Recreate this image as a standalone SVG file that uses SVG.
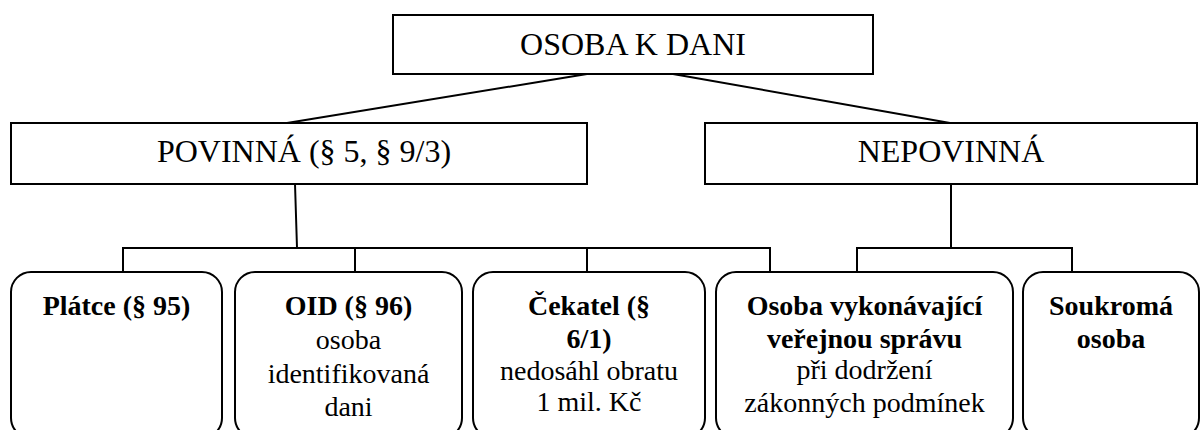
<svg xmlns="http://www.w3.org/2000/svg" width="1200" height="430" viewBox="0 0 1200 430">
<style>
  .box { fill: #ffffff; stroke: #000000; stroke-width: 2; }
  .conn { fill: none; stroke: #000000; stroke-width: 2; }
  .big { font-size: 32px; }
  .sm { font-size: 28px; }
  .b { font-weight: bold; }
</style>
<rect width="1200" height="430" fill="#ffffff"/>
<g id="connectors">
  <line class="conn" x1="587" y1="74" x2="287" y2="123"/>
  <line class="conn" x1="673" y1="74" x2="950" y2="123"/>
  <line class="conn" x1="295" y1="184" x2="297" y2="248"/>
  <polyline class="conn" points="123,272 123,248 770,248 770,272"/>
  <line class="conn" x1="355" y1="248" x2="355" y2="272"/>
  <line class="conn" x1="587" y1="248" x2="587" y2="272"/>
  <line class="conn" x1="951" y1="184" x2="951" y2="248"/>
  <polyline class="conn" points="857,272 857,248 1072,248 1072,272"/>
</g>
<g font-family="Liberation Serif, Times New Roman, serif" fill="#000000" text-anchor="middle">
<g id="osoba-k-dani">
  <rect class="box" x="393" y="15" width="480" height="59"/>
  <text class="big" x="633" y="55">OSOBA K DANI</text>
</g>
<g id="povinna">
  <rect class="box" x="11" y="123" width="576" height="61"/>
  <text class="big" x="304" y="162">POVINNÁ (§ 5, § 9/3)</text>
</g>
<g id="nepovinna">
  <rect class="box" x="705" y="123" width="492" height="61"/>
  <text class="big" x="951" y="162">NEPOVINNÁ</text>
</g>
<g id="platce">
  <rect class="box" x="11" y="272" width="211" height="166" rx="20" ry="20"/>
  <text class="sm b" x="116.5" y="315">Plátce (§ 95)</text>
</g>
<g id="oid">
  <rect class="box" x="235" y="272" width="227" height="166" rx="20" ry="20"/>
  <text class="sm b" x="348.5" y="315">OID (§ 96)</text>
  <text class="sm" x="348.5" y="349">osoba</text>
  <text class="sm" x="348.5" y="383">identifikovaná</text>
  <text class="sm" x="348.5" y="416">dani</text>
</g>
<g id="cekatel">
  <rect class="box" x="473" y="272" width="232" height="166" rx="20" ry="20"/>
  <text class="sm b" x="589" y="315">Čekatel (§</text>
  <text class="sm b" x="589" y="348">6/1)</text>
  <text class="sm" x="589" y="380">nedosáhl obratu</text>
  <text class="sm" x="589" y="411">1 mil. Kč</text>
</g>
<g id="verejna-sprava">
  <rect class="box" x="716" y="272" width="297" height="166" rx="20" ry="20"/>
  <text class="sm b" x="864.5" y="315">Osoba vykonávající</text>
  <text class="sm b" x="864.5" y="348">veřejnou správu</text>
  <text class="sm" x="864.5" y="379">při dodržení</text>
  <text class="sm" x="864.5" y="412">zákonných podmínek</text>
</g>
<g id="soukroma">
  <rect class="box" x="1023" y="272" width="176" height="166" rx="20" ry="20"/>
  <text class="sm b" x="1111" y="315">Soukromá</text>
  <text class="sm b" x="1111" y="348">osoba</text>
</g>
</g>
</svg>
